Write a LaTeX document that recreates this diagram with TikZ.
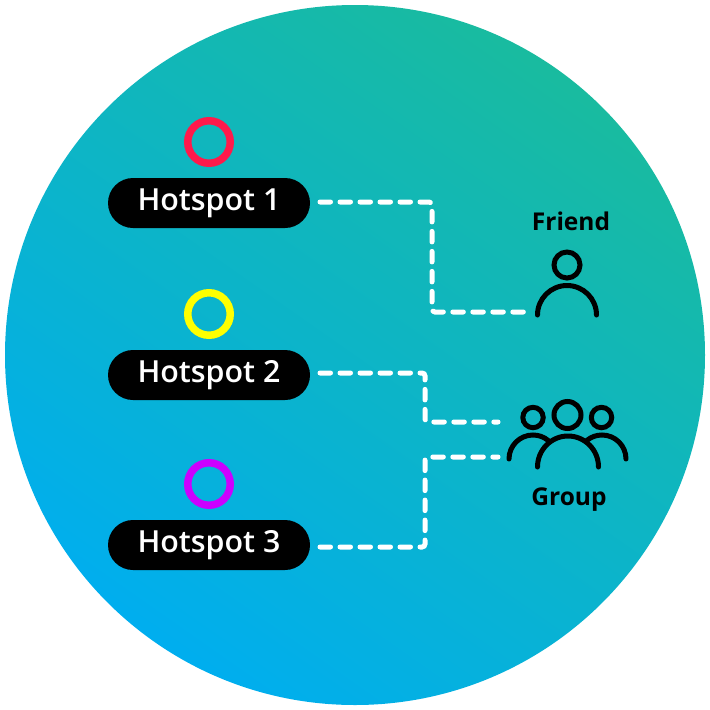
\documentclass[tikz,border=0pt]{standalone}
\usepackage{fontspec}
\setmainfont{Open Sans}
\IfFontExistsTF{Open Sans Semibold}{\newfontfamily\semi{Open Sans Semibold}}{\newfontfamily\semi{Open Sans}[FakeBold=0.5]}
\usetikzlibrary{shapes.misc}
\definecolor{gradA}{HTML}{00AEEF}
\definecolor{gradB}{HTML}{19BB9F}
\definecolor{ringR}{HTML}{FF1A4B}
\definecolor{ringY}{HTML}{FFFF00}
\definecolor{ringP}{HTML}{CC00FF}
\tikzset{
  x=1pt,y=-1pt,
  pill/.style={rounded rectangle,fill=black,text=white,minimum width=202pt,minimum height=50pt,inner sep=0pt,font=\semi\fontsize{30.4}{33}\selectfont},
  ring/.style={circle,draw=#1,line width=7.5pt,minimum size=42.5pt,inner sep=0pt},
  link/.style={draw=white,line width=5pt,line cap=round,dash pattern=on 10.5pt off 9.5pt,rounded corners=3pt},
  icon/.style={draw=black,line width=5pt,line cap=round},
  lab/.style={text=black,inner sep=0pt,font=\fontsize{24.5}{27}\selectfont\bfseries}
}
\begin{document}
\begin{tikzpicture}
\useasboundingbox (0,0) rectangle (710,710);
\shade[shading=axis,bottom color=gradA,top color=gradB,shading angle=-35] (355,355) circle[radius=350];
\node[ring=ringR] (r1) at (209,142) {};
\node[ring=ringY] (r2) at (209,314) {};
\node[ring=ringP] (r3) at (209,484) {};
\node[pill] (h1) at (209,203) {Hotspot 1};
\node[pill] (h2) at (209,375) {Hotspot 2};
\node[pill] (h3) at (209,545) {Hotspot 3};
\node[lab] (friend) at (571,221) {Friend};
\node[lab] (group) at (569,500) {Group};
\coordinate (s1) at (320,202);
\coordinate (s2) at (320,373);
\coordinate (s3) at (320,547);
\coordinate (e1) at (525,312);
\coordinate (e2) at (498,422);
\coordinate (e3) at (498,457);
\draw[link] (s1) -- (432,202) -- (432,312) -- (e1);
\draw[link] (s2) -- (425,373) -- (425,422) -- (e2);
\draw[link] (s3) -- (425,547) -- (425,457) -- (e3);
% friend icon
\draw[icon] (567,265) circle[radius=13];
\draw[icon] (537.5,315) arc[start angle=180,end angle=0,radius=29.5,y radius=-29.5];
% group icon
\draw[icon] (567.5,415) circle[radius=13.5];
\draw[icon] (533,417.5) circle[radius=10.2];
\draw[icon] (601.5,417.5) circle[radius=10.2];
\draw[icon] (537.5,467) arc[start angle=180,end angle=0,radius=30.5,y radius=-31];
\draw[icon] (509,459) arc[start angle=180,end angle=51,radius=24,y radius=-24];
\draw[icon] (626,459) arc[start angle=0,end angle=129,radius=24,y radius=-24];
\end{tikzpicture}
\end{document}
